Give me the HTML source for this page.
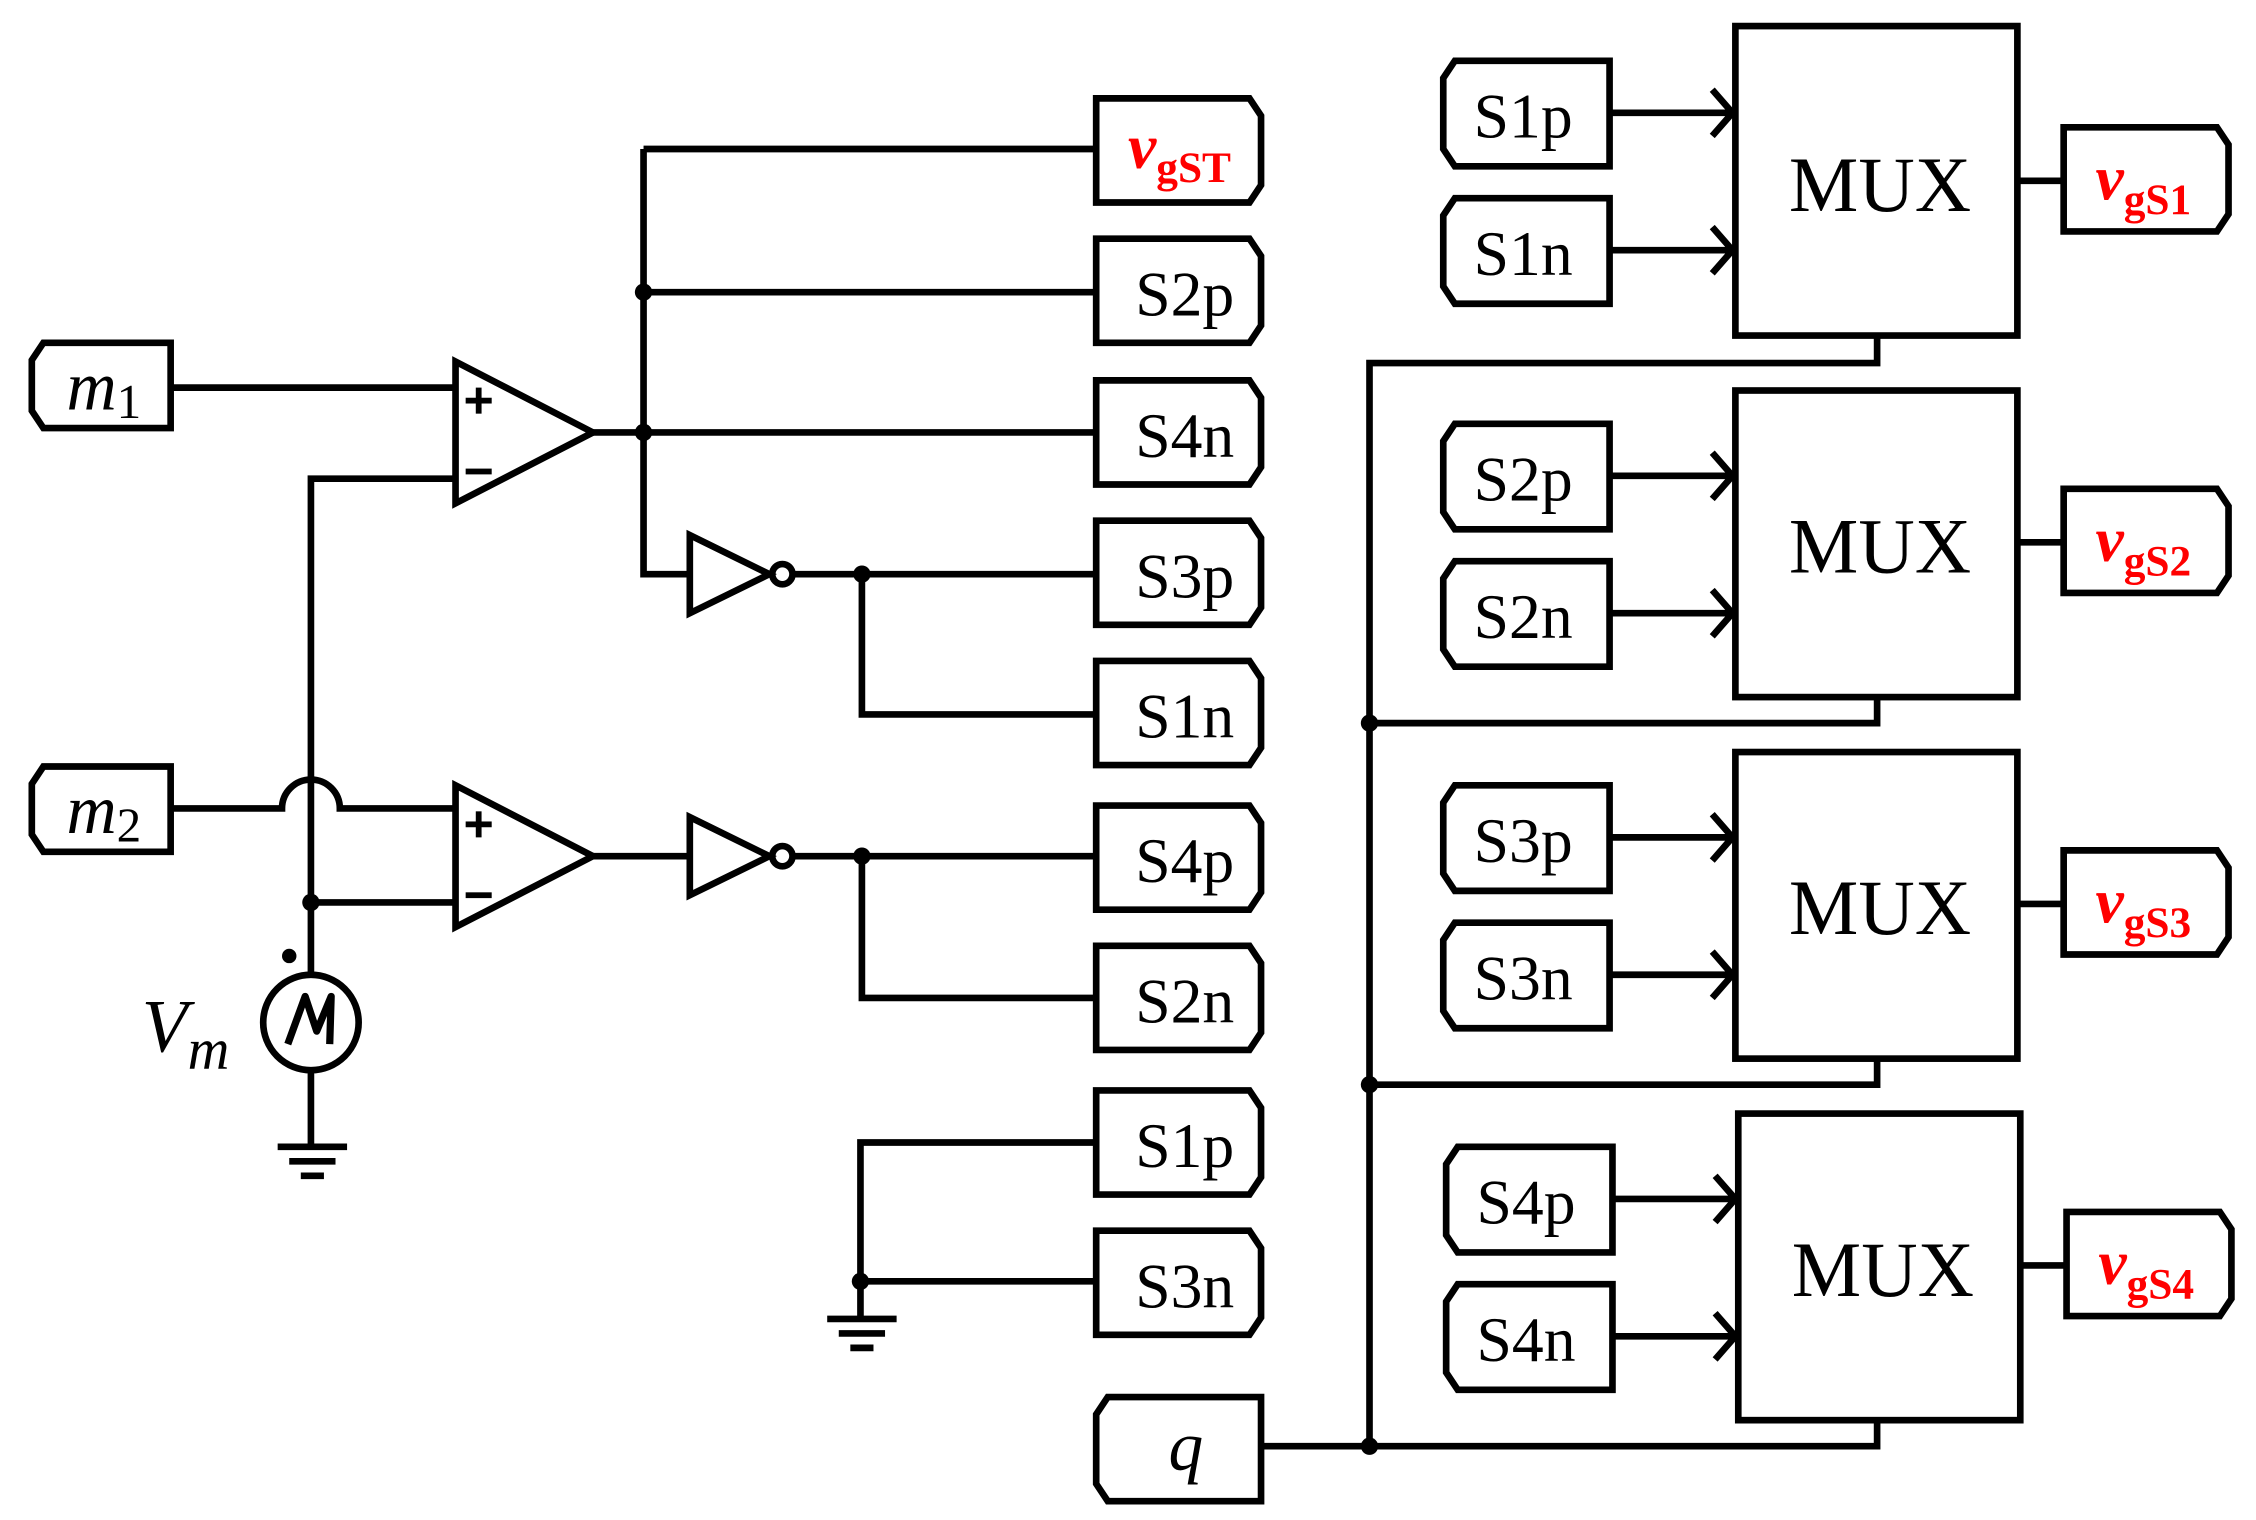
<!DOCTYPE html>
<html><head><meta charset="utf-8"><style>html,body{margin:0;padding:0;background:#fff}svg{display:block}</style></head>
<body>
<svg width="2256" height="1520" viewBox="0 0 1560 1051" xmlns="http://www.w3.org/2000/svg" font-family="'Liberation Serif', serif">
<g fill="none" stroke="#000" stroke-width="4.6" stroke-linejoin="miter">
<path d="M30 237 H118 V296 H30 L22 284 V249 Z"/>
<path d="M30 530 H118 V589 H30 L22 577 V542 Z"/>
<path d="M118 268 H315"/>
<path d="M315 250 L315 348 L410 299 Z"/>
<path d="M410 299 H758"/>
<path d="M445 103 H758 M445 103 V397 H477 M445 202 H758"/>
<path d="M477 370 L477 424 L532 397 Z"/>
<circle cx="541" cy="397" r="7"/>
<path d="M548 397 H758 M596 397 V494 H758"/>
<path d="M315 331 H215 V674 M215 624 H315"/>
<path d="M118 559 H195 A20 20 0 0 1 235 559 H315"/>
<path d="M315 543 L315 641 L410 592 Z"/>
<path d="M410 592 H477"/>
<path d="M477 565 L477 619 L532 592 Z"/>
<circle cx="541" cy="592" r="7"/>
<path d="M548 592 H758 M596 592 V690 H758"/>
<circle cx="215" cy="707" r="33"/>
<path d="M215 740 V793 M192 793 H240 M200 803 H232 M208 813 H224"/>
<path d="M758 790 H595 V912 M595 886 H758 M572 912 H620 M580 922 H612 M588 932 H604"/>
<path d="M758 68 H864 L872 80 V128 L864 140 H758 Z"/>
<path d="M758 165 H864 L872 177 V225 L864 237 H758 Z"/>
<path d="M758 263 H864 L872 275 V323 L864 335 H758 Z"/>
<path d="M758 360 H864 L872 372 V420 L864 432 H758 Z"/>
<path d="M758 457 H864 L872 469 V517 L864 529 H758 Z"/>
<path d="M758 557 H864 L872 569 V617 L864 629 H758 Z"/>
<path d="M758 654 H864 L872 666 V714 L864 726 H758 Z"/>
<path d="M758 754 H864 L872 766 V814 L864 826 H758 Z"/>
<path d="M758 851 H864 L872 863 V911 L864 923 H758 Z"/>
<path d="M766 966 H872 V1038 H766 L758 1026 V978 Z"/>
<path d="M872 1000 H1298 V982"/>
<path d="M947 1000 V251 H1298 V232 M947 500 H1298 V482 M947 750 H1298 V732"/>
<rect x="1200" y="18" width="195" height="214"/>
<rect x="1200" y="270" width="195" height="212"/>
<rect x="1200" y="520" width="195" height="212"/>
<rect x="1202" y="770" width="195" height="212"/>
<path d="M1006 42 H1113 V115 H1006 L998 103 V54 Z"/>
<path d="M1006 137 H1113 V210 H1006 L998 198 V149 Z"/>
<path d="M1006 293 H1113 V366 H1006 L998 354 V305 Z"/>
<path d="M1006 388 H1113 V461 H1006 L998 449 V400 Z"/>
<path d="M1006 543 H1113 V616 H1006 L998 604 V555 Z"/>
<path d="M1006 638 H1113 V711 H1006 L998 699 V650 Z"/>
<path d="M1008 793 H1115 V866 H1008 L1000 854 V805 Z"/>
<path d="M1008 888 H1115 V961 H1008 L1000 949 V900 Z"/>
<path d="M1113 78 H1200 M1184 62 L1198 78 L1184 94"/>
<path d="M1113 173 H1200 M1184 157 L1198 173 L1184 189"/>
<path d="M1113 329 H1200 M1184 313 L1198 329 L1184 345"/>
<path d="M1113 424 H1200 M1184 408 L1198 424 L1184 440"/>
<path d="M1113 579 H1200 M1184 563 L1198 579 L1184 595"/>
<path d="M1113 674 H1200 M1184 658 L1198 674 L1184 690"/>
<path d="M1115 829 H1202 M1186 813 L1200 829 L1186 845"/>
<path d="M1115 924 H1202 M1186 908 L1200 924 L1186 940"/>
<path d="M1395 125 H1427 M1427 88 H1533 L1541 100 V148 L1533 160 H1427 Z"/>
<path d="M1395 375 H1427 M1427 338 H1533 L1541 350 V398 L1533 410 H1427 Z"/>
<path d="M1395 625 H1427 M1427 588 H1533 L1541 600 V648 L1533 660 H1427 Z"/>
<path d="M1397 875 H1429 M1429 838 H1535 L1543 850 V898 L1535 910 H1429 Z"/>
<path d="M199 722 L211 689 L219 713 L229 689 L228 722" stroke-width="5" stroke-linejoin="round"/>
</g>
<g fill="#000">
<circle cx="445" cy="202" r="6"/><circle cx="445" cy="299" r="6"/>
<circle cx="596" cy="397" r="6"/><circle cx="596" cy="592" r="6"/>
<circle cx="215" cy="624" r="6"/><circle cx="595" cy="886" r="6"/>
<circle cx="947" cy="500" r="6"/><circle cx="947" cy="750" r="6"/><circle cx="947" cy="1000" r="6"/>
<circle cx="200" cy="661" r="5"/>
<rect x="322" y="275" width="18" height="4"/><rect x="329" y="268" width="4" height="18"/>
<rect x="322" y="324" width="18" height="4"/>
<rect x="322" y="568" width="18" height="4"/><rect x="329" y="561" width="4" height="18"/>
<rect x="322" y="617" width="18" height="4"/>
</g>
<g font-size="44" fill="#000">
<text x="46" y="283" font-style="italic" font-size="48">m<tspan font-style="normal" font-size="34" dy="6">1</tspan></text>
<text x="46" y="576" font-style="italic" font-size="48">m<tspan font-style="normal" font-size="34" dy="6">2</tspan></text>
<text x="98" y="727" font-style="italic" font-size="52">V<tspan font-size="40" dy="12">m</tspan></text>
<text x="785" y="218">S2p</text>
<text x="785" y="316">S4n</text>
<text x="785" y="413">S3p</text>
<text x="785" y="510">S1n</text>
<text x="785" y="610">S4p</text>
<text x="785" y="707">S2n</text>
<text x="785" y="807">S1p</text>
<text x="785" y="904">S3n</text>
<text x="808" y="1016" font-style="italic" font-size="48">q</text>
<text x="1019" y="95">S1p</text>
<text x="1019" y="190">S1n</text>
<text x="1019" y="346">S2p</text>
<text x="1019" y="441">S2n</text>
<text x="1019" y="596">S3p</text>
<text x="1019" y="691">S3n</text>
<text x="1021" y="846">S4p</text>
<text x="1021" y="941">S4n</text>
<g font-size="54" text-anchor="middle">
<text x="1300" y="146">MUX</text>
<text x="1300" y="396">MUX</text>
<text x="1300" y="646">MUX</text>
<text x="1302" y="896">MUX</text>
</g>
</g>
<g fill="#f00" font-weight="bold">
<text x="780" y="116" font-size="44" font-style="italic">v<tspan font-style="normal" font-size="30" dy="10">gST</tspan></text>
<text x="1449" y="138" font-size="44" font-style="italic">v<tspan font-style="normal" font-size="30" dy="10">gS1</tspan></text>
<text x="1449" y="388" font-size="44" font-style="italic">v<tspan font-style="normal" font-size="30" dy="10">gS2</tspan></text>
<text x="1449" y="638" font-size="44" font-style="italic">v<tspan font-style="normal" font-size="30" dy="10">gS3</tspan></text>
<text x="1451" y="888" font-size="44" font-style="italic">v<tspan font-style="normal" font-size="30" dy="10">gS4</tspan></text>
</g>
</svg>
</body></html>
